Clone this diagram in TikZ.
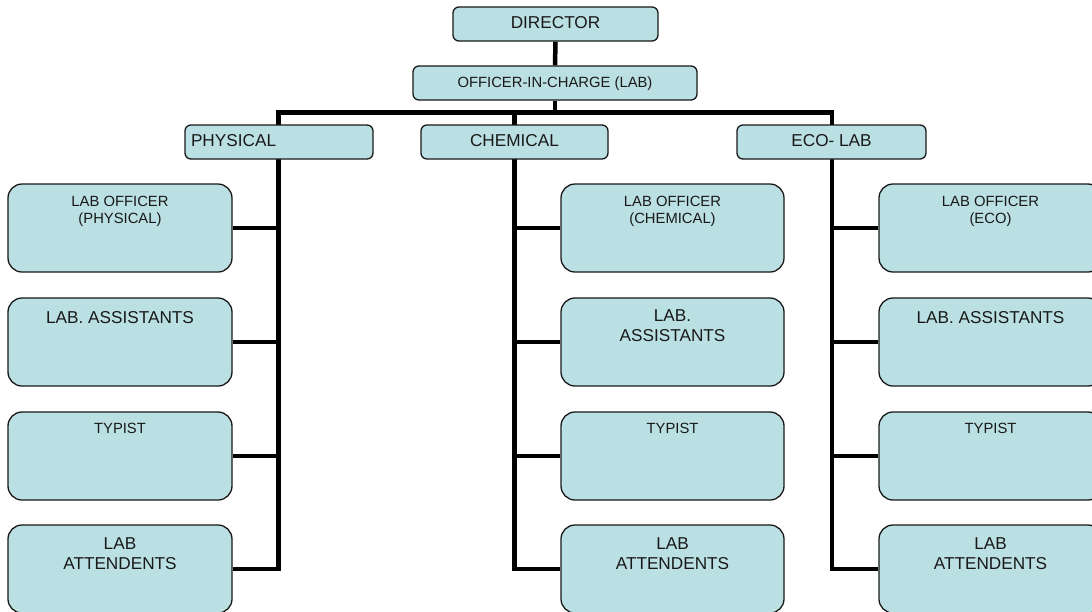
\documentclass[tikz,border=0pt]{standalone}
\usepackage{fontspec}
\setmainfont{Liberation Sans}
\usetikzlibrary{backgrounds}
\definecolor{boxfill}{RGB}{187,224,227}
\definecolor{ink}{RGB}{25,25,25}
\newcommand\bigf{\fontsize{17.2}{20.5}\selectfont}
\newcommand\smlf{\fontsize{14.8}{16.8}\selectfont}
\newcommand\inbox[3]{\parbox[c][88pt][t]{#1}{\centering\rule{0pt}{#2}#3}}
\tikzset{
  base/.style={draw=ink, line width=1.3pt, fill=boxfill, text=ink},
  hdr/.style={base, rounded corners=6pt, minimum height=34pt, inner xsep=6pt, inner ysep=0pt, text height=12pt, text depth=4pt, font=\bigf},
  card/.style={base, rounded corners=14pt, inner sep=0pt},
  conn/.style={line width=4.5pt, draw=black, line join=miter},
}
\begin{document}
\begin{tikzpicture}[x=1pt,y=-1pt]
\useasboundingbox (0,0) rectangle (1092,611);
\clip (0,0) rectangle (1092,611);
% header boxes
\node[hdr, minimum width=205pt] (dir) at (555.5,24) {DIRECTOR};
\node[hdr, minimum width=284pt, font=\smlf] (oic) at (555,83) {OFFICER-IN-CHARGE (LAB)};
\node[hdr, text width=176pt, align=left] (phy) at (279,142) {PHYSICAL};
\node[hdr, minimum width=187pt] (che) at (514.5,142) {CHEMICAL};
\node[hdr, minimum width=189pt] (eco) at (831.5,142) {ECO- LAB};
% physical column
\node[card] (p1) at (120,228) {\inbox{224pt}{22.7pt}{\smlf LAB OFFICER\\(PHYSICAL)}};
\node[card] (p2) at (120,342) {\inbox{224pt}{25pt}{\bigf LAB. ASSISTANTS}};
\node[card] (p3) at (120,456) {\inbox{224pt}{21pt}{\smlf TYPIST}};
\node[card] (p4) at (120,569) {\inbox{224pt}{24pt}{\bigf LAB\\ATTENDENTS}};
% chemical column
\node[card] (c1) at (672.5,228) {\inbox{223pt}{22.7pt}{\smlf LAB OFFICER\\(CHEMICAL)}};
\node[card] (c2) at (672.5,342) {\inbox{223pt}{23pt}{\bigf LAB.\\ASSISTANTS}};
\node[card] (c3) at (672.5,456) {\inbox{223pt}{21pt}{\smlf TYPIST}};
\node[card] (c4) at (672.5,569) {\inbox{223pt}{24pt}{\bigf LAB\\ATTENDENTS}};
% eco column
\node[card] (e1) at (990.5,228) {\inbox{223pt}{22.7pt}{\smlf LAB OFFICER\\(ECO)}};
\node[card] (e2) at (990.5,342) {\inbox{223pt}{25pt}{\bigf LAB. ASSISTANTS}};
\node[card] (e3) at (990.5,456) {\inbox{223pt}{21pt}{\smlf TYPIST}};
\node[card] (e4) at (990.5,569) {\inbox{223pt}{24pt}{\bigf LAB\\ATTENDENTS}};
% connector points
\coordinate (bar) at (555,112.5);
\coordinate (v1) at (278.5,112.5);
\coordinate (v2) at (514.5,112.5);
\coordinate (v3) at (832,112.5);
\begin{scope}[on background layer]
  \draw[conn] (dir.south) -- (oic.north);
  \draw[conn] (oic.south) -- (bar);
  \draw[conn, line cap=rect] (v1) -- (v3);
  \draw[conn] (v1) |- (p4.east);
  \draw[conn] (p1.east) -- (p1.east -| v1);
  \draw[conn] (p2.east) -- (p2.east -| v1);
  \draw[conn] (p3.east) -- (p3.east -| v1);
  \draw[conn] (v2) |- (c4.west);
  \draw[conn] (c1.west) -- (c1.west -| v2);
  \draw[conn] (c2.west) -- (c2.west -| v2);
  \draw[conn] (c3.west) -- (c3.west -| v2);
  \draw[conn] (v3) |- (e4.west);
  \draw[conn] (e1.west) -- (e1.west -| v3);
  \draw[conn] (e2.west) -- (e2.west -| v3);
  \draw[conn] (e3.west) -- (e3.west -| v3);
\end{scope}
\end{tikzpicture}
\end{document}
